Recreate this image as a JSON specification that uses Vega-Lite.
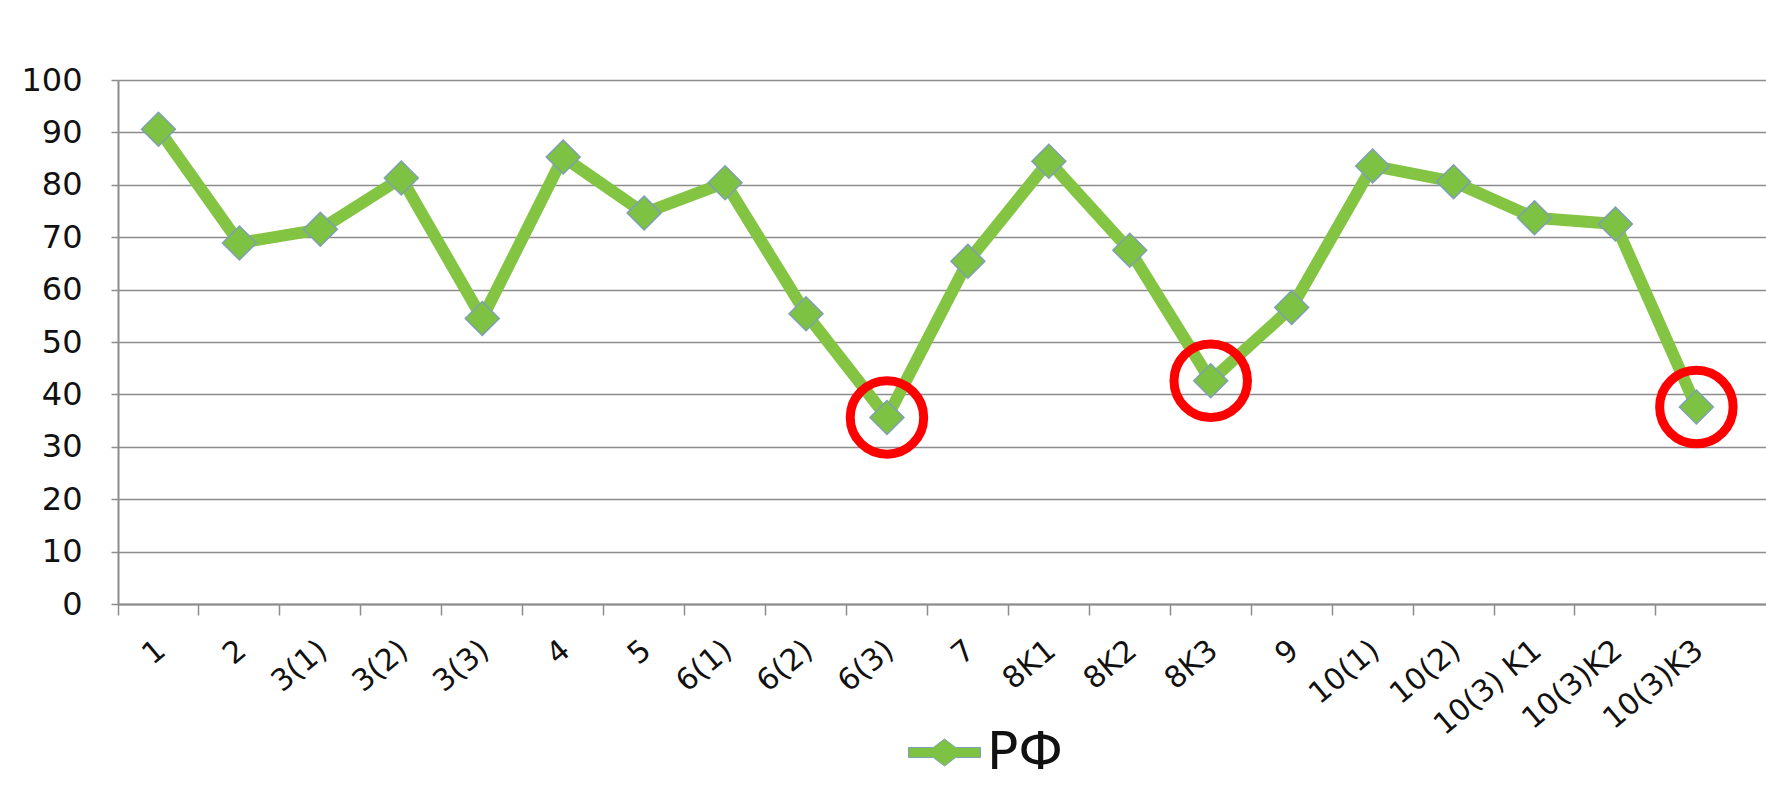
{
  "$schema": "https://vega.github.io/schema/vega-lite/v6.json",
  "width": 1648,
  "height": 524,
  "autosize": {"type": "none"},
  "padding": {"left": 118, "top": 80, "right": 0, "bottom": 197},
  "background": "white",
  "config": {"view": {"stroke": null}, "font": "DejaVu Sans"},
  "data": {
    "values": [
      {"cat": "1", "value": 90.6, "series": "РФ"},
      {"cat": "2", "value": 68.9, "series": "РФ"},
      {"cat": "3(1)", "value": 71.5, "series": "РФ"},
      {"cat": "3(2)", "value": 81.3, "series": "РФ"},
      {"cat": "3(3)", "value": 54.5, "series": "РФ"},
      {"cat": "4", "value": 85.3, "series": "РФ"},
      {"cat": "5", "value": 74.6, "series": "РФ"},
      {"cat": "6(1)", "value": 80.4, "series": "РФ"},
      {"cat": "6(2)", "value": 55.4, "series": "РФ"},
      {"cat": "6(3)", "value": 35.6, "series": "РФ"},
      {"cat": "7", "value": 65.4, "series": "РФ"},
      {"cat": "8K1", "value": 84.5, "series": "РФ"},
      {"cat": "8K2", "value": 67.5, "series": "РФ"},
      {"cat": "8K3", "value": 42.6, "series": "РФ"},
      {"cat": "9", "value": 56.6, "series": "РФ"},
      {"cat": "10(1)", "value": 83.6, "series": "РФ"},
      {"cat": "10(2)", "value": 80.6, "series": "РФ"},
      {"cat": "10(3) K1", "value": 73.7, "series": "РФ"},
      {"cat": "10(3)K2", "value": 72.5, "series": "РФ"},
      {"cat": "10(3)K3", "value": 37.6, "series": "РФ"}
    ]
  },
  "encoding": {
    "x": {
      "field": "cat",
      "type": "nominal",
      "sort": null,
      "scale": {"type": "band", "paddingInner": 0, "paddingOuter": 0.18, "align": 0},
      "axis": {
        "title": null,
        "bandPosition": 0,
        "labelOffset": 3,
        "labelAngle": -40,
        "labelAlign": "right",
        "labelBaseline": "middle",
        "labelPadding": 31,
        "labelOverlap": false,
        "labelBound": false,
        "labelFontSize": 30,
        "labelFont": "DejaVu Sans",
        "labelColor": "#111111",
        "tickSize": 11,
        "tickColor": "#8c8c8c",
        "tickWidth": 1.5,
        "domainColor": "#8c8c8c",
        "domainWidth": 2,
        "grid": false
      }
    },
    "y": {
      "field": "value",
      "type": "quantitative",
      "scale": {"domain": [0, 100], "nice": false},
      "axis": {
        "title": null,
        "values": [0, 10, 20, 30, 40, 50, 60, 70, 80, 90, 100],
        "grid": true,
        "gridColor": "#8c8c8c",
        "gridWidth": 1.5,
        "domainColor": "#8c8c8c",
        "domainWidth": 2,
        "tickSize": 7,
        "tickColor": "#8c8c8c",
        "tickWidth": 1.5,
        "labelFontSize": 32,
        "labelFont": "DejaVu Sans",
        "labelColor": "#111111",
        "labelPadding": 29
      }
    }
  },
  "layer": [
    {
      "mark": {"type": "line", "color": "#84c443", "strokeWidth": 12, "strokeJoin": "round"}
    },
    {
      "mark": {"type": "point", "shape": "diamond", "filled": true, "size": 1150, "stroke": "#7f9fb5", "strokeWidth": 1.5, "opacity": 1},
      "encoding": {
        "color": {
          "field": "series",
          "type": "nominal",
          "scale": {"range": ["#7dc242"]},
          "legend": {
            "title": null,
            "orient": "none",
            "legendX": 790,
            "legendY": 636,
            "padding": 0,
            "symbolType": "M-1,-0.14H-0.307L0,-0.375L0.307,-0.14H1V0.14H0.307L0,0.375L-0.307,0.14H-1Z",
            "symbolSize": 5184,
            "symbolFillColor": "#7dc242",
            "symbolStrokeColor": "#7f9fb5",
            "symbolStrokeWidth": 1,
            "symbolOpacity": 1,
            "labelFontSize": 52,
            "labelFont": "DejaVu Sans",
            "labelColor": "#111111",
            "labelOffset": 6
          }
        }
      }
    },
    {
      "transform": [{"filter": {"field": "cat", "oneOf": ["6(3)", "8K3", "10(3)K3"]}}],
      "mark": {"type": "point", "shape": "circle", "filled": false, "size": 5400, "stroke": "#ff0000", "strokeWidth": 9, "opacity": 1}
    }
  ]
}
